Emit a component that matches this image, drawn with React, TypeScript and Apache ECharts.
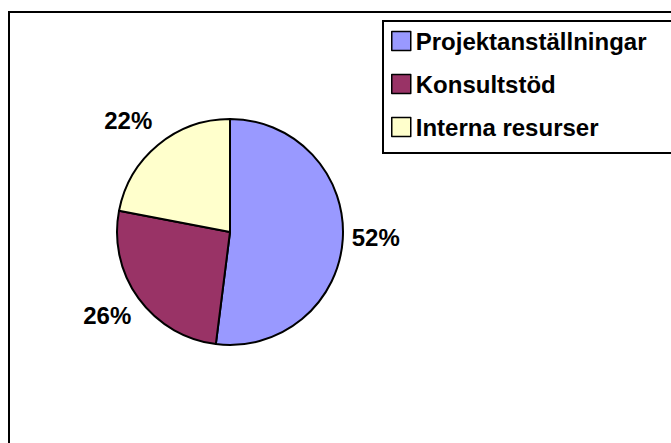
import React, { useEffect, useRef } from "react";
import * as echarts from "echarts";

const categories = ["Projektanställningar", "Konsultstöd", "Interna resurser"];
const values = [52, 26, 22];
const colors = ["#9999FF", "#993366", "#FFFFCC"];

const FONT = "'Liberation Sans', Arial, sans-serif";
const CENTER: [number, number] = [230, 232];
const RADIUS = 113;

export default function App() {
  const ref = useRef<HTMLDivElement>(null);

  useEffect(() => {
    if (!ref.current) return;
    const chart = echarts.init(ref.current, undefined, { renderer: "svg" });
    const total = values.reduce((a, b) => a + b, 0);

    const option: any = {
      animation: false,
      backgroundColor: "#ffffff",
      graphic: [
        {
          type: "polyline",
          shape: { points: [[690, 12], [9, 12], [9, 460]] },
          style: { fill: "none", stroke: "#000", lineWidth: 2 },
          silent: true,
          z: 0,
        },
        {
          type: "polyline",
          shape: { points: [[690, 21], [383, 21], [383, 153], [690, 153]] },
          style: { fill: "none", stroke: "#000", lineWidth: 2 },
          silent: true,
          z: 0,
        },
      ],
      legend: {
        orient: "vertical",
        left: 383,
        top: 22,
        padding: [7, 10, 14, 8],
        borderWidth: 0,
        icon: "rect",
        itemWidth: 19,
        itemHeight: 19,
        itemGap: 19,
        selectedMode: false,
        z: 5,
        data: categories,
        itemStyle: { borderColor: "#000", borderWidth: 1.5 },
        textStyle: {
          fontFamily: FONT,
          fontWeight: "bold",
          fontSize: 24,
          color: "#000",
        },
      },
      series: [
        {
          type: "pie",
          center: CENTER,
          radius: RADIUS,
          startAngle: 90,
          clockwise: true,
          avoidLabelOverlap: false,
          silent: true,
          itemStyle: { borderColor: "#000", borderWidth: 2 },
          label: {
            show: true,
            position: "outside",
            formatter: (p: any) => `${Math.round(p.percent)}%`,
            fontFamily: FONT,
            fontWeight: "bold",
            fontSize: 24,
            color: "#000",
          },
          labelLine: { show: false },
          labelLayout: (params: any) => {
            const i = params.dataIndex;
            let cum = 0;
            for (let k = 0; k < i; k++) cum += values[k];
            const mid = ((cum + values[i] / 2) / total) * Math.PI * 2;
            const dx = Math.sin(mid);
            const dy = -Math.cos(mid);
            const r = RADIUS + 9;
            return {
              x: CENTER[0] + dx * r,
              y: CENTER[1] + dy * r + (dy < -0.3 ? -5 : dy > 0.3 ? 0 : -2),
              align: dx > 0.3 ? "left" : dx < -0.3 ? "right" : "center",
              verticalAlign: dy > 0.3 ? "top" : dy < -0.3 ? "bottom" : "middle",
            };
          },
          data: categories.map((name, i) => ({
            name,
            value: values[i],
            itemStyle: { color: colors[i] },
          })),
        },
      ],
    };

    chart.setOption(option);
    return () => chart.dispose();
  }, []);

  return (
    <div
      style={{
        position: "absolute",
        left: 0,
        top: 0,
        width: 671,
        height: 443,
        overflow: "hidden",
      }}
    >
      <div ref={ref} style={{ width: 671, height: 443 }} />
    </div>
  );
}
